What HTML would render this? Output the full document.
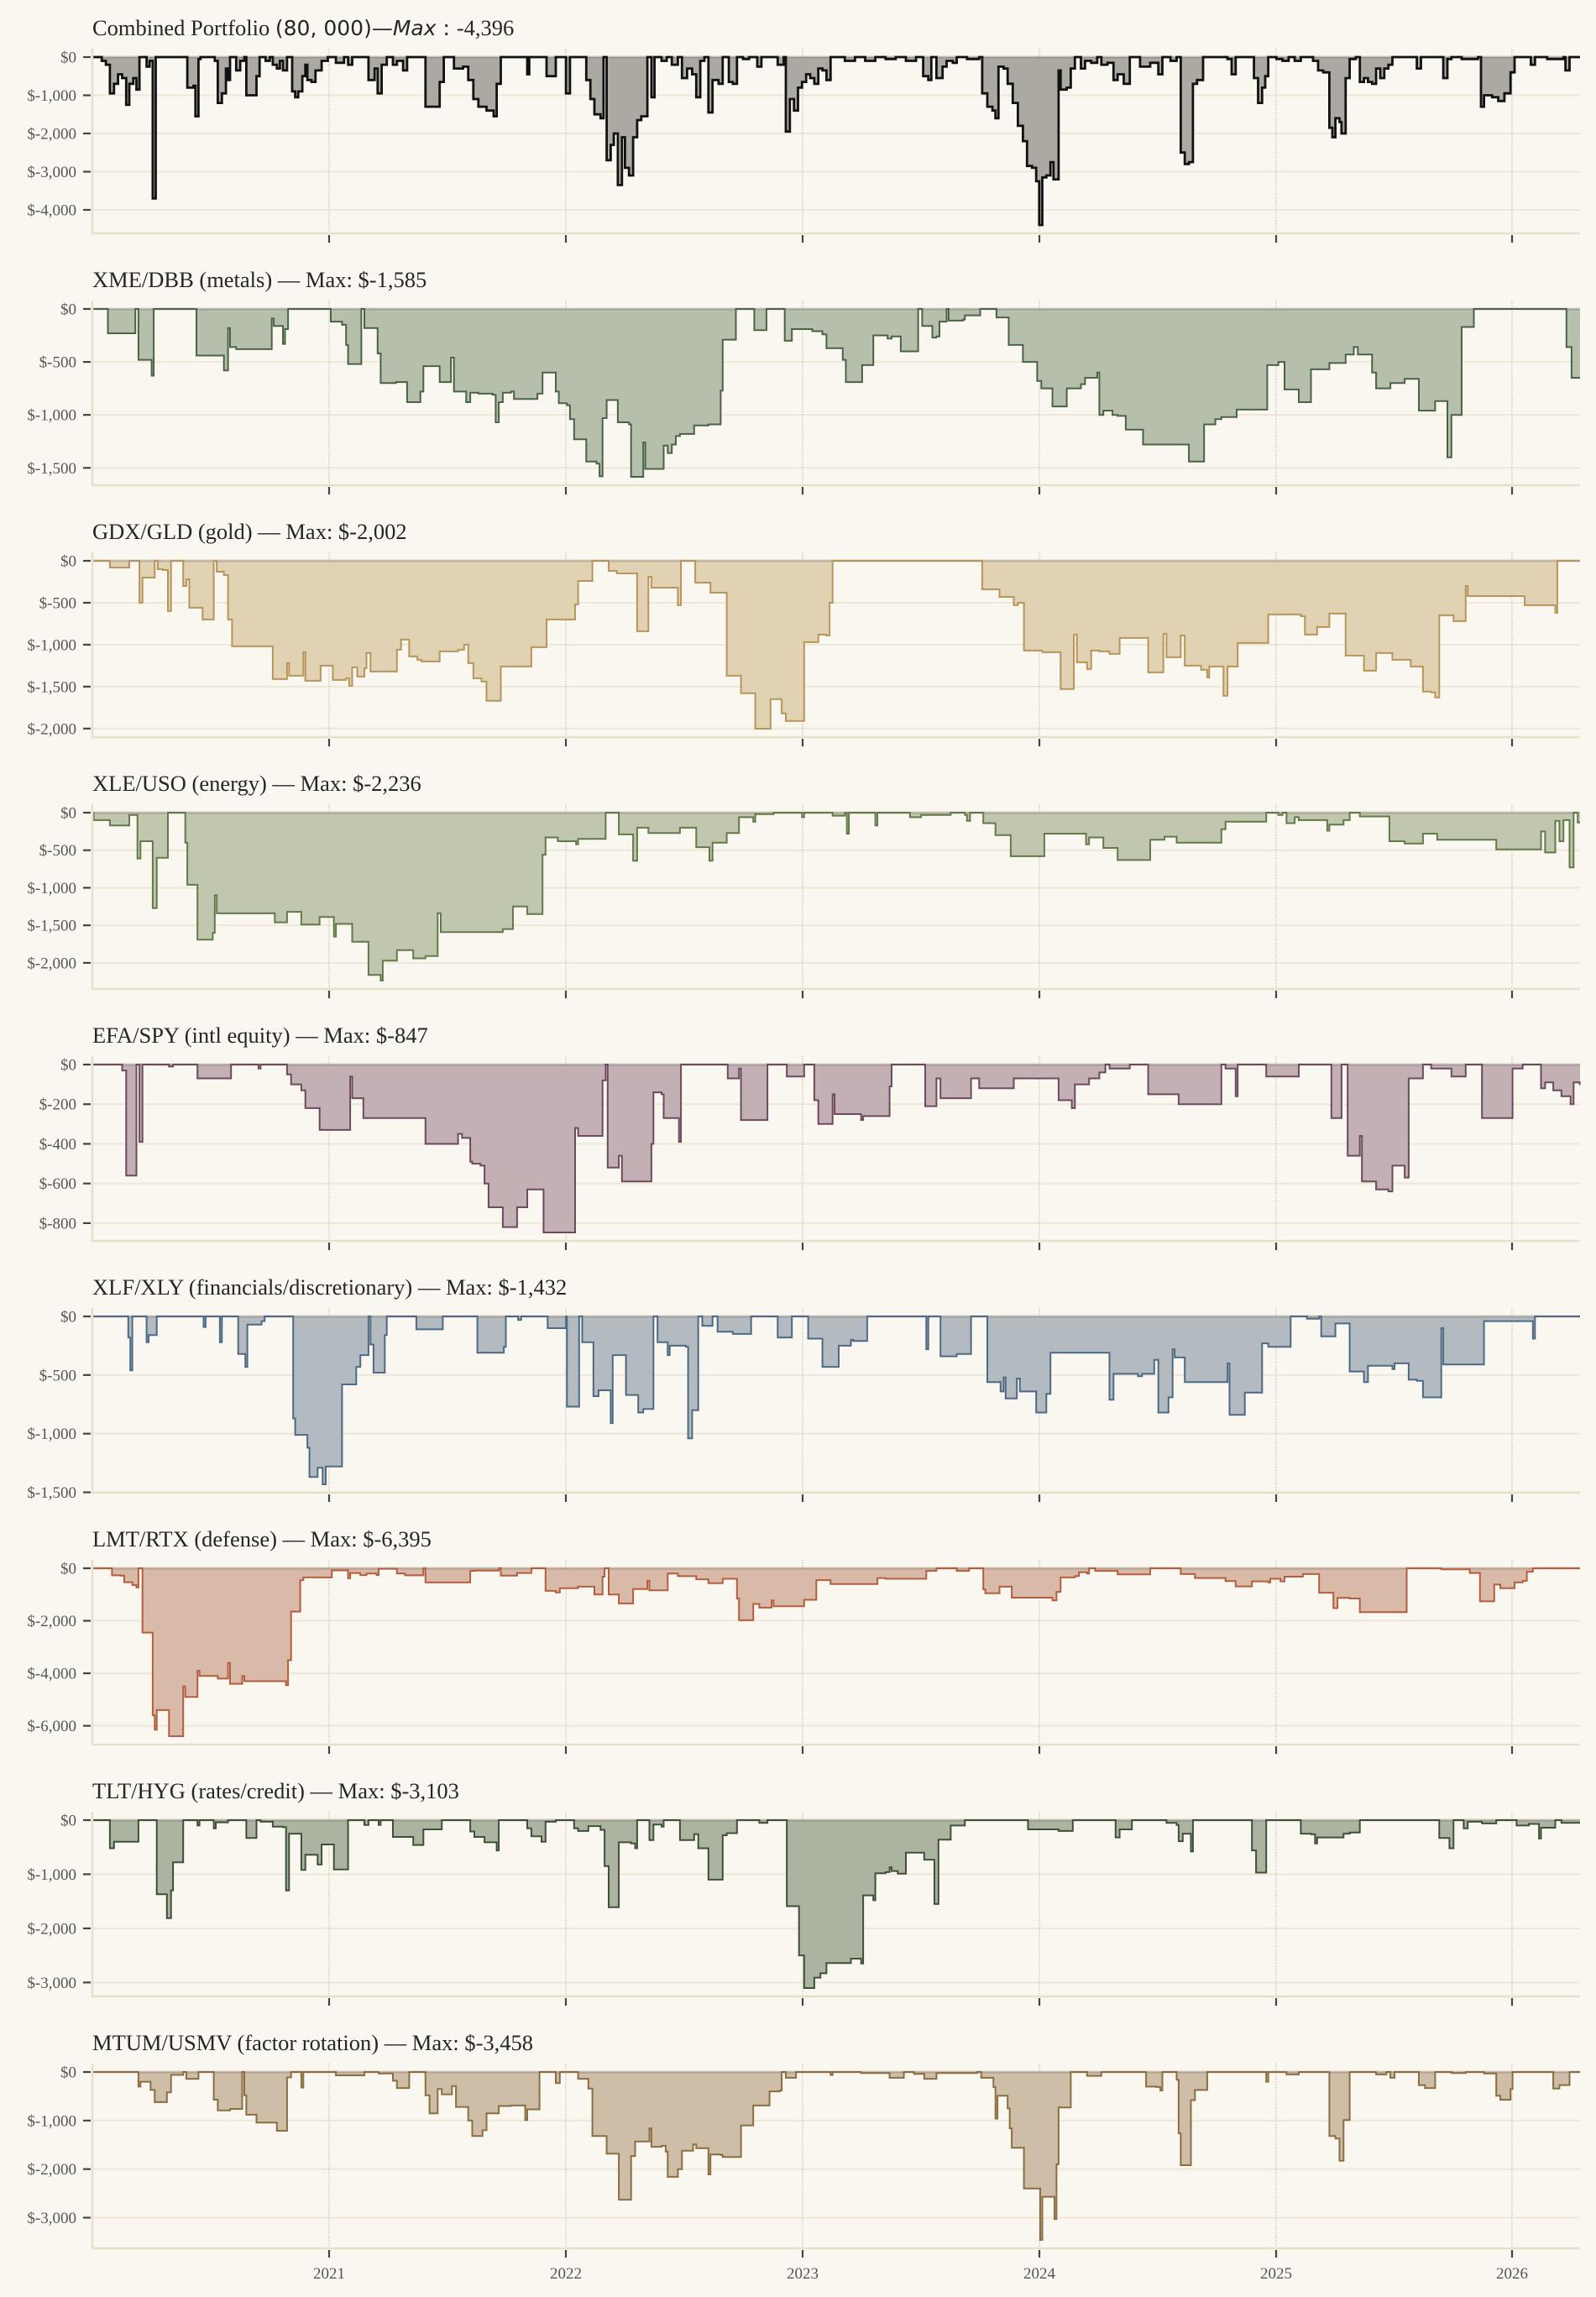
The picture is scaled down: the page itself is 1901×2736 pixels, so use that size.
<!DOCTYPE html>
<html><head><meta charset="utf-8">
<style>
html,body{margin:0;padding:0;background:#faf7f0;}
svg{display:block;}
.t{font-family:"Liberation Serif","DejaVu Serif",serif;font-size:26.5px;fill:#262626;}
.yl{font-family:"Liberation Serif","DejaVu Serif",serif;font-size:19px;fill:#555;text-anchor:end;}
.xl{font-family:"Liberation Serif","DejaVu Serif",serif;font-size:19px;fill:#555;text-anchor:middle;}
</style></head>
<body>
<svg id="c" width="1901" height="2736" viewBox="0 0 1901 2736" xmlns="http://www.w3.org/2000/svg">
<rect width="1901" height="2736" fill="#faf7f0"/>
<g id="g"></g>
<text class="t" x="110" y="42">Combined Portfolio <tspan font-family="DejaVu Sans, sans-serif" font-size="25">(80, 000)—</tspan><tspan font-family="DejaVu Sans, sans-serif" font-style="italic" font-size="25">Max</tspan><tspan font-family="DejaVu Sans, sans-serif" font-size="25"> : </tspan>-4,396</text>
<text class="t" x="110" y="342">XME/DBB (metals) — Max: $-1,585</text>
<text class="t" x="110" y="642">GDX/GLD (gold) — Max: $-2,002</text>
<text class="t" x="110" y="942">XLE/USO (energy) — Max: $-2,236</text>
<text class="t" x="110" y="1242">EFA/SPY (intl equity) — Max: $-847</text>
<text class="t" x="110" y="1542">XLF/XLY (financials/discretionary) — Max: $-1,432</text>
<text class="t" x="110" y="1842">LMT/RTX (defense) — Max: $-6,395</text>
<text class="t" x="110" y="2142">TLT/HYG (rates/credit) — Max: $-3,103</text>
<text class="t" x="110" y="2442">MTUM/USMV (factor rotation) — Max: $-3,458</text>
<g id="ticks"></g>
<text class="xl" x="392" y="2714">2021</text>
<text class="xl" x="674" y="2714">2022</text>
<text class="xl" x="956" y="2714">2023</text>
<text class="xl" x="1238" y="2714">2024</text>
<text class="xl" x="1520" y="2714">2025</text>
<text class="xl" x="1801" y="2714">2026</text>
</svg>
<script>
var P=[
{min:-4396,lc:"#111111",fc:"#aba9a1",lw:2.8,ticks:[0,-1000,-2000,-3000,-4000],d:[[90,0],[100,-100],[104,-200],[108,-950],[112,-700],[116,-450],[120,-550],[124,-1250],[127,-700],[131,-550],[134,-850],[137,0],[144,-250],[147,-100],[150,-3700],[153,0],[183,0],[184,-800],[190,-750],[192,-1550],[195,-50],[197,0],[208,0],[211,-100],[214,-1200],[218,-950],[222,-300],[224,-600],[226,0],[229,0],[232,-350],[236,-100],[240,0],[242,-1000],[248,-1000],[252,-500],[255,0],[261,-100],[265,0],[268,-200],[272,-300],[275,-100],[278,-350],[282,0],[287,-900],[290,-1050],[293,-900],[297,-500],[300,-200],[302,-600],[306,-650],[310,-350],[316,-100],[322,0],[330,-150],[338,0],[342,-200],[346,0],[360,0],[362,-600],[368,-300],[371,-950],[375,-200],[380,0],[386,-200],[390,-100],[396,-350],[400,0],[414,0],[418,-1300],[428,-1300],[432,-650],[436,0],[446,-300],[455,-250],[460,-600],[465,-1100],[470,-1300],[478,-1400],[485,-1550],[488,-700],[492,0],[516,0],[518,-450],[520,0],[530,0],[537,-500],[543,-500],[546,0],[556,-950],[560,0],[572,0],[576,-600],[580,-1100],[584,-1500],[590,-1600],[593,0],[596,-2700],[600,-2300],[603,-2000],[607,-3350],[611,-2100],[614,-2900],[618,-3100],[622,-2100],[626,-1650],[630,-1550],[636,0],[640,-1050],[643,0],[650,-100],[655,0],[660,-200],[666,0],[670,-550],[675,-300],[680,-450],[684,-1050],[688,-100],[692,0],[696,-1450],[700,-600],[706,-700],[710,0],[716,-650],[720,-700],[724,0],[730,-50],[736,0],[744,-250],[748,0],[764,-200],[770,0],[772,-1950],[776,-1100],[780,-1400],[784,-800],[788,-650],[792,-450],[796,-550],[800,-700],[804,-300],[808,-350],[812,-600],[816,0],[830,-100],[840,0],[850,-100],[860,0],[870,-50],[880,0],[890,-100],[900,0],[907,-500],[912,-600],[915,0],[920,-550],[926,-250],[930,-100],[936,-150],[940,0],[950,-50],[962,0],[965,-950],[970,-1300],[975,-1400],[978,-1600],[981,-250],[986,-300],[990,-700],[995,-1200],[1000,-1800],[1005,-2200],[1009,-2850],[1014,-2900],[1018,-3250],[1021,-4396],[1024,-3150],[1028,-3100],[1032,-2750],[1035,-3200],[1040,-350],[1042,-850],[1048,-800],[1052,-300],[1056,0],[1062,-300],[1066,-100],[1072,-150],[1078,0],[1082,-200],[1088,-150],[1094,-600],[1098,-450],[1104,-700],[1110,0],[1120,-250],[1130,-150],[1138,-450],[1142,0],[1150,-100],[1156,0],[1160,-2500],[1164,-2800],[1168,-2750],[1172,-700],[1176,-600],[1182,0],[1206,-50],[1210,-450],[1214,0],[1232,-550],[1236,-1200],[1240,-800],[1243,-500],[1246,0],[1254,-50],[1260,-100],[1266,0],[1272,-100],[1278,0],[1290,-100],[1295,-350],[1300,-400],[1306,-1850],[1309,-2100],[1312,-1600],[1316,-1700],[1318,-2000],[1322,-550],[1326,-50],[1332,0],[1336,-650],[1340,-550],[1344,-650],[1348,-700],[1352,-300],[1356,-550],[1360,-300],[1364,-200],[1368,0],[1392,-300],[1396,0],[1418,-550],[1422,-50],[1426,0],[1436,-50],[1452,0],[1455,-1300],[1458,-1000],[1466,-1050],[1472,-1150],[1478,-950],[1484,-400],[1488,0],[1504,-200],[1508,0],[1520,-50],[1536,0],[1538,-350],[1542,0],[1552,0]]},
{min:-1585,lc:"#4a6347",fc:"#b6bfac",lw:2,ticks:[0,-500,-1000,-1500],d:[[90,0],[103,0],[106,-230],[130,-230],[133,0],[136,-480],[148,-480],[149,-630],[151,0],[190,0],[193,-440],[218,-440],[220,-580],[224,-180],[226,-360],[232,-380],[265,-380],[267,-90],[269,-160],[276,-160],[278,-330],[280,-190],[283,0],[322,0],[325,-120],[336,-150],[340,-340],[342,-520],[352,-520],[355,0],[358,-180],[366,-180],[371,-420],[374,-700],[384,-700],[389,-690],[398,-690],[400,-880],[410,-880],[413,-780],[416,-540],[430,-540],[432,-690],[441,-690],[443,-460],[446,-780],[456,-780],[458,-880],[462,-790],[470,-800],[484,-810],[487,-1070],[490,-880],[494,-790],[502,-780],[505,-850],[526,-850],[528,-800],[533,-600],[545,-600],[546,-780],[549,-890],[557,-910],[560,-1040],[564,-1230],[572,-1230],[576,-1440],[586,-1460],[589,-1580],[592,-1030],[596,-860],[605,-860],[607,-1070],[618,-1090],[620,-1585],[630,-1585],[632,-1260],[634,-1510],[648,-1510],[652,-1290],[656,-1360],[660,-1280],[664,-1200],[668,-1180],[682,-1100],[696,-1090],[708,-770],[710,-290],[720,-290],[723,0],[738,0],[741,-200],[750,-200],[753,0],[768,0],[771,-300],[778,-190],[795,-190],[798,-210],[808,-240],[812,-370],[825,-370],[828,-480],[831,-690],[843,-690],[847,-530],[855,-530],[858,-250],[870,-250],[872,-280],[876,-260],[882,-260],[885,-400],[896,-400],[902,0],[906,-160],[913,-160],[916,-270],[920,-260],[923,-120],[930,0],[932,-110],[946,-100],[948,-60],[960,-60],[963,0],[976,0],[979,-80],[988,-80],[991,-340],[1002,-340],[1005,-500],[1017,-500],[1019,-680],[1023,-750],[1030,-750],[1034,-920],[1046,-920],[1048,-750],[1060,-750],[1062,-710],[1066,-650],[1078,-600],[1080,-1000],[1084,-960],[1093,-1000],[1098,-1010],[1106,-1140],[1120,-1140],[1123,-1280],[1155,-1280],[1168,-1440],[1178,-1440],[1183,-1090],[1194,-1040],[1200,-1020],[1213,-1020],[1215,-950],[1242,-950],[1245,-530],[1256,-500],[1262,-760],[1274,-760],[1276,-880],[1285,-880],[1288,-570],[1302,-570],[1306,-510],[1320,-510],[1322,-430],[1330,-360],[1334,-430],[1343,-430],[1348,-600],[1352,-750],[1362,-750],[1366,-700],[1376,-700],[1380,-660],[1390,-660],[1394,-960],[1406,-960],[1410,-870],[1418,-870],[1422,-1400],[1426,-1000],[1432,-1000],[1436,-170],[1445,-170],[1448,0],[1537,0],[1539,-360],[1544,-650],[1552,-650]]},
{min:-2002,lc:"#b8955a",fc:"#e0d2b3",lw:2,ticks:[0,-500,-1000,-1500,-2000],d:[[90,0],[105,0],[108,-80],[124,-80],[127,0],[134,0],[137,-500],[140,-200],[148,-200],[152,0],[155,-100],[160,-110],[165,-600],[168,0],[178,0],[180,-300],[183,-220],[186,-560],[196,-560],[199,-700],[206,-700],[210,0],[213,-130],[220,-170],[224,-700],[228,-1020],[265,-1020],[268,-1410],[280,-1410],[282,-1220],[284,-1370],[296,-1370],[298,-1090],[300,-1430],[312,-1430],[315,-1250],[324,-1250],[327,-1420],[340,-1400],[343,-1490],[346,-1270],[351,-1380],[358,-1280],[360,-1100],[364,-1320],[386,-1320],[390,-1060],[394,-940],[400,-940],[402,-1140],[410,-1180],[414,-1200],[428,-1200],[432,-1080],[450,-1060],[456,-1000],[460,-1220],[465,-1400],[473,-1440],[478,-1670],[488,-1670],[492,-1260],[520,-1260],[522,-1030],[534,-1030],[537,-700],[560,-700],[565,-520],[568,-240],[580,-240],[582,0],[595,0],[598,-120],[606,-150],[624,-150],[626,-840],[634,-840],[637,-190],[640,-320],[664,-320],[666,-530],[669,0],[680,0],[683,-260],[695,-260],[698,-380],[710,-380],[714,-1370],[724,-1370],[728,-1580],[740,-1580],[742,-2002],[754,-2002],[757,-1650],[763,-1650],[768,-1820],[772,-1910],[786,-1910],[790,-970],[802,-970],[804,-880],[812,-890],[815,-500],[818,0],[962,0],[965,-340],[978,-340],[982,-430],[990,-430],[996,-530],[1000,-500],[1006,-1070],[1020,-1070],[1024,-1090],[1040,-1090],[1042,-1530],[1050,-1530],[1055,-880],[1058,-1210],[1066,-1210],[1068,-1290],[1072,-1070],[1080,-1080],[1090,-1110],[1100,-920],[1125,-920],[1128,-1330],[1140,-1330],[1143,-870],[1146,-1150],[1156,-1150],[1160,-890],[1164,-1250],[1172,-1250],[1180,-1300],[1186,-1390],[1188,-1260],[1198,-1260],[1202,-1610],[1206,-1260],[1214,-1260],[1216,-980],[1244,-980],[1246,-640],[1264,-640],[1278,-660],[1282,-880],[1288,-880],[1294,-790],[1302,-790],[1306,-630],[1320,-630],[1322,-1130],[1336,-1130],[1340,-1310],[1348,-1310],[1352,-1100],[1364,-1100],[1368,-1180],[1382,-1180],[1386,-1260],[1394,-1260],[1398,-1560],[1406,-1570],[1410,-1630],[1414,-650],[1424,-650],[1428,-720],[1436,-720],[1440,-300],[1442,-420],[1494,-420],[1498,-530],[1526,-530],[1528,-620],[1530,0],[1552,0]]},
{min:-2236,lc:"#627a49",fc:"#c1c7af",lw:2,ticks:[0,-500,-1000,-1500,-2000],d:[[90,0],[92,-100],[106,-100],[108,-170],[124,-170],[127,-30],[134,-30],[135,-610],[138,-380],[148,-380],[150,-1270],[154,-600],[162,-600],[165,0],[178,0],[182,-400],[184,-960],[191,-960],[194,-1690],[206,-1690],[209,-1600],[211,-1100],[213,-1340],[267,-1340],[270,-1460],[280,-1460],[282,-1320],[294,-1320],[296,-1490],[312,-1490],[314,-1390],[326,-1390],[328,-1650],[330,-1480],[344,-1480],[346,-1720],[360,-1720],[362,-2160],[372,-2160],[374,-2236],[376,-1970],[388,-1970],[390,-1830],[404,-1830],[406,-1940],[416,-1940],[418,-1910],[428,-1910],[430,-1340],[433,-1590],[490,-1590],[494,-1550],[502,-1550],[504,-1250],[516,-1250],[518,-1350],[530,-1350],[533,-560],[536,-330],[546,-330],[548,-380],[562,-380],[566,-420],[568,-350],[593,-350],[595,0],[606,0],[608,-290],[620,-290],[622,-640],[626,-200],[634,-200],[637,-270],[665,-270],[668,-200],[682,-200],[684,-460],[694,-460],[697,-640],[700,-400],[710,-400],[714,-270],[724,-270],[726,-60],[738,-60],[740,-120],[742,-20],[760,0],[786,0],[788,-60],[790,0],[816,0],[818,-40],[830,0],[832,-280],[834,0],[858,0],[860,-170],[862,0],[890,0],[894,-60],[905,-30],[930,-30],[934,0],[948,-30],[950,-110],[953,0],[963,0],[966,-140],[976,-140],[978,-300],[990,-300],[993,-580],[1022,-580],[1026,-280],[1065,-280],[1067,-420],[1070,-330],[1078,-330],[1084,-470],[1096,-470],[1098,-630],[1126,-630],[1130,-360],[1140,-360],[1144,-320],[1154,-320],[1156,-400],[1198,-400],[1200,-220],[1204,-120],[1242,-120],[1244,0],[1256,-30],[1260,0],[1264,-140],[1272,-60],[1276,-100],[1302,-100],[1304,-240],[1306,-160],[1316,-160],[1320,-100],[1326,0],[1334,0],[1336,-50],[1362,-50],[1365,-380],[1378,-380],[1380,-410],[1396,-410],[1398,-280],[1410,-280],[1412,-360],[1468,-360],[1470,-490],[1512,-490],[1514,-250],[1518,-530],[1526,-530],[1528,-110],[1532,-380],[1536,-100],[1540,-100],[1542,-730],[1546,0],[1550,-130],[1552,-130]]},
{min:-847,lc:"#6e4a5e",fc:"#c2b0b4",lw:2,ticks:[0,-200,-400,-600,-800],d:[[90,0],[116,0],[120,-30],[124,-560],[132,-560],[134,0],[137,-390],[140,0],[164,0],[166,-10],[170,0],[192,0],[194,-70],[224,-70],[227,0],[252,0],[254,-20],[256,0],[280,0],[282,-50],[286,-100],[294,-100],[296,-130],[300,-220],[310,-220],[314,-330],[340,-330],[344,-60],[346,-170],[354,-170],[357,-270],[414,-270],[418,-400],[446,-400],[450,-350],[454,-370],[460,-370],[462,-490],[464,-500],[472,-510],[476,-600],[480,-720],[490,-720],[494,-820],[504,-820],[508,-720],[516,-720],[518,-630],[530,-630],[534,-847],[562,-847],[565,-320],[568,-360],[590,-360],[592,-80],[595,0],[597,-520],[606,-520],[608,-460],[611,-590],[636,-590],[640,-400],[642,-140],[650,-150],[652,-270],[664,-270],[667,-390],[669,0],[712,0],[715,-70],[724,-70],[726,-20],[728,-280],[752,-280],[754,0],[770,0],[773,-60],[788,-60],[790,0],[798,0],[800,-180],[804,-300],[814,-300],[818,-150],[820,-250],[844,-250],[846,-280],[848,-260],[870,-260],[874,-110],[876,0],[906,0],[909,-210],[918,-210],[920,-70],[924,-170],[950,-170],[954,-70],[960,-70],[962,-120],[992,-120],[996,-70],[1036,-70],[1040,-180],[1050,-180],[1053,-220],[1056,-100],[1066,-100],[1070,-70],[1076,-70],[1080,-40],[1086,0],[1090,-20],[1106,-20],[1110,0],[1122,0],[1128,-150],[1154,-150],[1158,-200],[1198,-200],[1200,0],[1204,-20],[1212,-20],[1214,-160],[1216,0],[1240,0],[1244,-60],[1272,-60],[1276,0],[1306,0],[1308,-270],[1316,-270],[1318,0],[1320,0],[1324,-460],[1332,-460],[1336,-360],[1338,-590],[1350,-590],[1352,-630],[1362,-630],[1364,-640],[1368,-510],[1378,-510],[1380,-570],[1384,-70],[1394,-70],[1398,0],[1406,-20],[1422,-20],[1426,-60],[1436,-60],[1440,0],[1452,0],[1456,-270],[1482,-270],[1486,-20],[1496,0],[1510,0],[1514,-120],[1518,-90],[1524,-90],[1526,-130],[1530,-130],[1534,-160],[1540,-160],[1543,-200],[1546,-90],[1552,-100]]},
{min:-1432,lc:"#4d6a85",fc:"#b4bbc0",lw:2,ticks:[0,-500,-1000,-1500],d:[[90,0],[124,0],[126,-180],[128,-460],[130,0],[142,0],[144,-220],[146,-160],[152,-160],[154,0],[198,0],[200,-90],[202,0],[214,0],[216,-220],[218,0],[232,0],[234,-320],[240,-320],[241,-430],[243,-70],[254,-70],[257,-40],[260,0],[286,0],[288,-870],[290,-1010],[298,-1010],[302,-1120],[304,-1370],[312,-1290],[317,-1432],[320,-1280],[333,-1280],[336,-580],[348,-580],[350,-430],[354,-330],[360,-330],[362,0],[364,-240],[367,-480],[375,-480],[378,-160],[380,0],[406,0],[409,-110],[432,-110],[435,0],[466,0],[469,-310],[492,-310],[495,-260],[497,0],[506,0],[509,-30],[512,0],[536,0],[538,-100],[552,-100],[556,0],[557,-770],[566,-770],[569,0],[572,-220],[580,-220],[583,-680],[588,-630],[598,-630],[600,-910],[602,-330],[610,-330],[615,-670],[624,-670],[627,-820],[632,-790],[639,-790],[642,0],[646,-220],[654,-220],[656,-330],[658,-250],[674,-260],[676,-1040],[680,-800],[684,-800],[686,0],[690,-80],[698,-80],[700,0],[705,-130],[718,-130],[720,-150],[736,-150],[738,0],[762,0],[764,-180],[776,-180],[778,0],[792,0],[794,-190],[806,-190],[808,-430],[820,-430],[824,-250],[832,-250],[836,-200],[838,-210],[848,-210],[852,0],[908,0],[910,-280],[912,0],[920,0],[924,-340],[938,-340],[940,-320],[952,-320],[954,0],[966,0],[970,-560],[980,-560],[983,-640],[986,-520],[988,-700],[996,-700],[999,-530],[1002,-640],[1014,-640],[1018,-820],[1026,-820],[1028,-660],[1032,-310],[1088,-310],[1090,-710],[1094,-490],[1114,-490],[1118,-510],[1122,-490],[1132,-490],[1134,-370],[1138,-820],[1146,-820],[1148,-690],[1152,-280],[1154,-350],[1160,-350],[1164,-560],[1204,-560],[1206,-400],[1208,-840],[1220,-840],[1223,-650],[1236,-650],[1240,-230],[1246,-260],[1266,-260],[1268,0],[1280,0],[1284,-20],[1296,0],[1298,-170],[1308,-170],[1312,-60],[1324,-60],[1326,-470],[1338,-470],[1340,-560],[1344,-420],[1366,-420],[1368,-450],[1370,-400],[1380,-400],[1384,-540],[1392,-550],[1398,-690],[1412,-690],[1416,-100],[1418,-410],[1454,-410],[1458,-40],[1504,-40],[1506,-190],[1508,0],[1552,0]]},
{min:-6395,lc:"#b35f3f",fc:"#d9b9a7",lw:2,ticks:[0,-2000,-4000,-6000],d:[[90,0],[106,0],[110,-270],[118,-280],[122,-530],[130,-640],[134,-730],[136,0],[138,0],[140,-2450],[148,-2450],[150,-5600],[152,-6150],[154,-5400],[164,-5400],[166,-6395],[178,-6395],[180,-4500],[182,-4900],[192,-4900],[194,-3900],[196,-4100],[212,-4100],[214,-4200],[222,-4200],[224,-3600],[226,-4400],[236,-4400],[238,-4100],[240,-4300],[278,-4300],[281,-4450],[283,-3500],[286,-1650],[292,-1650],[295,-450],[298,-350],[324,-350],[326,-80],[340,-80],[342,-380],[344,-180],[352,-180],[354,-260],[360,-200],[370,-260],[372,-20],[388,-20],[390,-200],[398,-270],[413,-270],[416,0],[418,-540],[458,-540],[462,-100],[466,-90],[488,-90],[490,0],[492,-280],[504,-280],[508,-180],[520,-180],[522,0],[532,0],[536,-860],[546,-920],[550,-760],[566,-760],[568,-700],[582,-700],[584,-1000],[592,-320],[594,0],[598,-1000],[606,-1000],[608,-1340],[620,-1340],[622,-790],[634,-790],[636,-470],[638,-840],[652,-840],[656,-200],[666,-300],[682,-300],[684,-420],[694,-420],[696,-570],[708,-570],[710,-400],[722,-400],[724,-1150],[726,-1980],[736,-1980],[740,-1360],[744,-1360],[746,-1500],[754,-1500],[758,-1220],[760,-1450],[786,-1450],[790,-1200],[800,-1200],[802,-450],[812,-450],[816,-600],[858,-600],[862,-370],[870,-400],[906,-400],[910,-100],[920,0],[936,0],[940,-100],[950,-100],[952,0],[962,0],[966,-800],[968,-950],[978,-950],[982,-700],[990,-700],[994,-1120],[1024,-1120],[1034,-1220],[1038,-900],[1042,-350],[1056,-300],[1060,-150],[1068,-200],[1070,0],[1076,-100],[1086,-100],[1098,-230],[1126,-230],[1130,0],[1156,0],[1160,-220],[1170,-220],[1174,-370],[1200,-370],[1204,-490],[1212,-490],[1214,-690],[1226,-690],[1230,-500],[1240,-500],[1246,-540],[1248,-400],[1258,-500],[1262,-320],[1276,-320],[1280,-220],[1292,-220],[1296,-930],[1306,-930],[1310,-1520],[1314,-1130],[1326,-1150],[1336,-1670],[1378,-1670],[1382,0],[1414,0],[1416,-40],[1442,-40],[1444,-180],[1452,-180],[1454,-1260],[1466,-1260],[1468,-620],[1474,-760],[1484,-760],[1488,-540],[1496,-480],[1500,-130],[1506,0],[1552,0]]},
{min:-3103,lc:"#3e5138",fc:"#acb3a0",lw:2,ticks:[0,-1000,-2000,-3000],d:[[90,0],[106,0],[108,-520],[112,-400],[134,-400],[136,0],[152,0],[154,-1370],[162,-1370],[164,-1810],[168,-1300],[170,-780],[178,-780],[180,0],[192,0],[194,-100],[196,0],[208,0],[210,-150],[212,-40],[222,-40],[224,0],[240,0],[242,-330],[250,-330],[252,0],[256,-30],[266,-30],[268,-120],[278,-130],[281,-1300],[284,-250],[292,-250],[296,-920],[300,-640],[308,-640],[312,-820],[316,-450],[324,-450],[328,-910],[340,-910],[342,0],[356,0],[358,-90],[362,0],[370,0],[372,-90],[374,0],[384,0],[386,-310],[404,-310],[406,-460],[414,-460],[416,-170],[432,-170],[434,0],[460,0],[462,-210],[466,-310],[472,-310],[476,-410],[486,-410],[488,-560],[490,0],[516,0],[518,-150],[522,-300],[530,-300],[532,-400],[536,-30],[546,0],[562,0],[564,-150],[568,-200],[576,-200],[578,-110],[590,-180],[594,-850],[598,-1610],[606,-1610],[608,-410],[620,-430],[624,-520],[626,0],[636,0],[638,-370],[642,-80],[650,-120],[652,0],[664,0],[668,-370],[680,-370],[682,-260],[686,-520],[694,-520],[696,-1100],[708,-1100],[710,-280],[714,-240],[722,-240],[724,0],[742,0],[746,-50],[752,-50],[754,0],[770,0],[773,-1590],[782,-1590],[785,-2500],[790,-3103],[798,-3103],[800,-2910],[806,-2830],[812,-2640],[834,-2640],[836,-2560],[844,-2560],[846,-2650],[848,-1390],[856,-1390],[858,-1480],[860,-980],[870,-960],[874,-870],[876,-940],[882,-990],[886,-990],[890,-600],[906,-600],[908,-730],[916,-730],[918,-1550],[922,-360],[932,-360],[934,-100],[946,-100],[948,0],[1008,0],[1010,-170],[1038,-170],[1040,-200],[1052,-200],[1054,0],[1094,0],[1096,-320],[1100,-170],[1110,-170],[1112,0],[1142,0],[1146,-50],[1156,-90],[1158,-390],[1162,-250],[1168,-250],[1170,-580],[1172,0],[1228,0],[1230,-560],[1234,-970],[1240,-970],[1244,0],[1274,0],[1278,-250],[1288,-260],[1292,-430],[1294,-320],[1316,-320],[1320,-250],[1326,-230],[1334,-230],[1336,0],[1410,0],[1414,-330],[1422,-330],[1424,-520],[1428,0],[1436,0],[1438,-150],[1442,-30],[1452,-30],[1456,-60],[1466,-60],[1470,0],[1486,0],[1490,-100],[1498,-100],[1502,-70],[1510,-70],[1512,-340],[1514,-140],[1524,-140],[1528,0],[1534,-50],[1552,-50]]},
{min:-3458,lc:"#8a6e42",fc:"#cfbea7",lw:2,ticks:[0,-1000,-2000,-3000],d:[[90,0],[134,0],[136,-300],[138,-200],[146,-200],[148,-370],[152,-620],[162,-620],[164,-420],[168,-60],[178,-60],[180,0],[183,-140],[193,-140],[195,0],[208,0],[210,-570],[214,-790],[224,-790],[226,-760],[236,-760],[238,0],[240,-480],[242,-880],[250,-880],[252,-1040],[268,-1040],[272,-1210],[280,-1210],[282,-110],[286,0],[294,0],[296,-320],[298,0],[328,0],[330,-70],[356,-70],[358,0],[370,0],[372,-30],[384,-30],[386,-180],[390,-330],[398,-330],[402,0],[414,0],[418,-480],[422,-850],[428,-850],[430,-350],[434,-460],[442,-460],[444,-290],[448,-720],[458,-720],[460,-1000],[464,-1320],[470,-1320],[474,-1200],[478,-850],[486,-850],[490,-700],[500,-700],[502,-690],[514,-690],[516,-990],[518,-770],[528,-770],[530,0],[544,0],[546,-230],[550,0],[566,0],[568,-140],[574,-140],[578,-340],[582,-1320],[594,-1320],[596,-1680],[604,-1680],[608,-2630],[618,-2630],[620,-1730],[624,-1430],[636,-1430],[638,-1160],[640,-1540],[650,-1520],[654,-1640],[656,-2160],[664,-2160],[666,-2000],[670,-1620],[678,-1620],[681,-1490],[684,-1570],[694,-1570],[696,-2110],[698,-1700],[708,-1710],[710,-1750],[724,-1750],[728,-1100],[736,-1100],[740,-690],[754,-690],[756,-400],[766,-380],[768,0],[772,-120],[780,-120],[782,0],[814,0],[816,-60],[818,0],[846,-20],[870,-20],[874,-120],[884,-120],[888,0],[898,-40],[906,-40],[908,-140],[918,-140],[920,-20],[950,-20],[960,0],[964,-120],[972,-120],[976,-310],[978,-960],[980,-490],[988,-490],[990,-750],[992,-1160],[994,-1560],[1002,-1560],[1006,-2400],[1018,-2400],[1022,-3458],[1024,-2570],[1034,-2570],[1036,-3030],[1038,-1900],[1040,-730],[1050,-730],[1052,0],[1064,0],[1068,-80],[1078,-80],[1082,0],[1122,0],[1126,-300],[1136,-310],[1140,-380],[1142,0],[1154,0],[1156,-160],[1158,-1260],[1160,-1920],[1168,-1920],[1170,-580],[1174,-370],[1182,-370],[1186,0],[1240,0],[1244,-200],[1246,0],[1260,0],[1264,-50],[1272,-50],[1276,0],[1302,0],[1306,-1320],[1312,-1370],[1316,-1830],[1320,-990],[1326,0],[1348,0],[1352,-50],[1362,0],[1366,-120],[1370,0],[1392,0],[1394,-270],[1400,-330],[1406,-330],[1410,0],[1426,-20],[1438,-20],[1440,0],[1454,0],[1458,-30],[1466,-30],[1470,-490],[1474,-570],[1480,-570],[1484,-350],[1486,0],[1524,0],[1526,-340],[1532,-270],[1538,-270],[1542,0],[1552,0]]}
];
var NS="http://www.w3.org/2000/svg";
var g=document.getElementById("g"), tk=document.getElementById("ticks");
var L=110,R=1882,K=1568/1901;
var years=[392,674,956,1238,1520,1801];
function el(n,a,p){var e=document.createElementNS(NS,n);for(var k in a)e.setAttribute(k,a[k]);(p||g).appendChild(e);return e;}
function fmt(v){if(v===0)return "$0";var s=Math.abs(v).toString().replace(/\B(?=(\d{3})+(?!\d))/g,",");return "$-"+s;}
P.forEach(function(p,i){
  var top=58+300*i, bot=278+300*i, H=bot-top;
  var lo=1.05*p.min, hi=-0.05*p.min;
  function Y(v){return top+(hi-v)/(hi-lo)*H;}
  p.ticks.forEach(function(t){
    var y=Y(t);
    el("line",{x1:L,x2:R,y1:y,y2:y,stroke:"#eee6d6","stroke-width":2});
    el("line",{x1:99,x2:108,y1:y,y2:y,stroke:"#444","stroke-width":2.2},tk);
    var tx=el("text",{class:"yl",x:91,y:y+6.5},tk);tx.textContent=fmt(t);
  });
  years.forEach(function(x){
    el("line",{x1:x,x2:x,y1:top,y2:bot,stroke:"#bdb5a6","stroke-width":1,"stroke-dasharray":"1.5,1.5"});
    el("line",{x1:x,x2:x,y1:bot+2,y2:bot+11,stroke:"#444","stroke-width":2.2},tk);
  });
  var d=p.d, pts=[];
  for(var j=0;j<d.length;j++){
    var x=d[j][0]/K, y=Y(d[j][1]);
    if(j>0){pts.push([x,Y(d[j-1][1])]);}
    pts.push([x,y]);
  }
  var last=pts[pts.length-1]; pts.push([R,last[1]]);
  var y0=Y(0);
  var line="M"+pts.map(function(q){return q[0].toFixed(1)+","+q[1].toFixed(1);}).join("L");
  el("path",{d:line+"L"+R+","+y0+"L"+pts[0][0].toFixed(1)+","+y0+"Z",fill:p.fc,stroke:"none"});
  el("line",{x1:L,x2:R,y1:y0,y2:y0,stroke:"rgba(90,80,70,0.25)","stroke-width":3});
  el("path",{d:line,fill:"none",stroke:p.lc,"stroke-width":p.lw,"stroke-linejoin":"miter"});
  el("line",{x1:L,x2:L,y1:top,y2:bot+1,stroke:"#e8dfcb","stroke-width":2.5});
  el("line",{x1:L-1,x2:R,y1:bot,y2:bot,stroke:"#e8dfcb","stroke-width":2.5});
});
</script>
</body></html>
